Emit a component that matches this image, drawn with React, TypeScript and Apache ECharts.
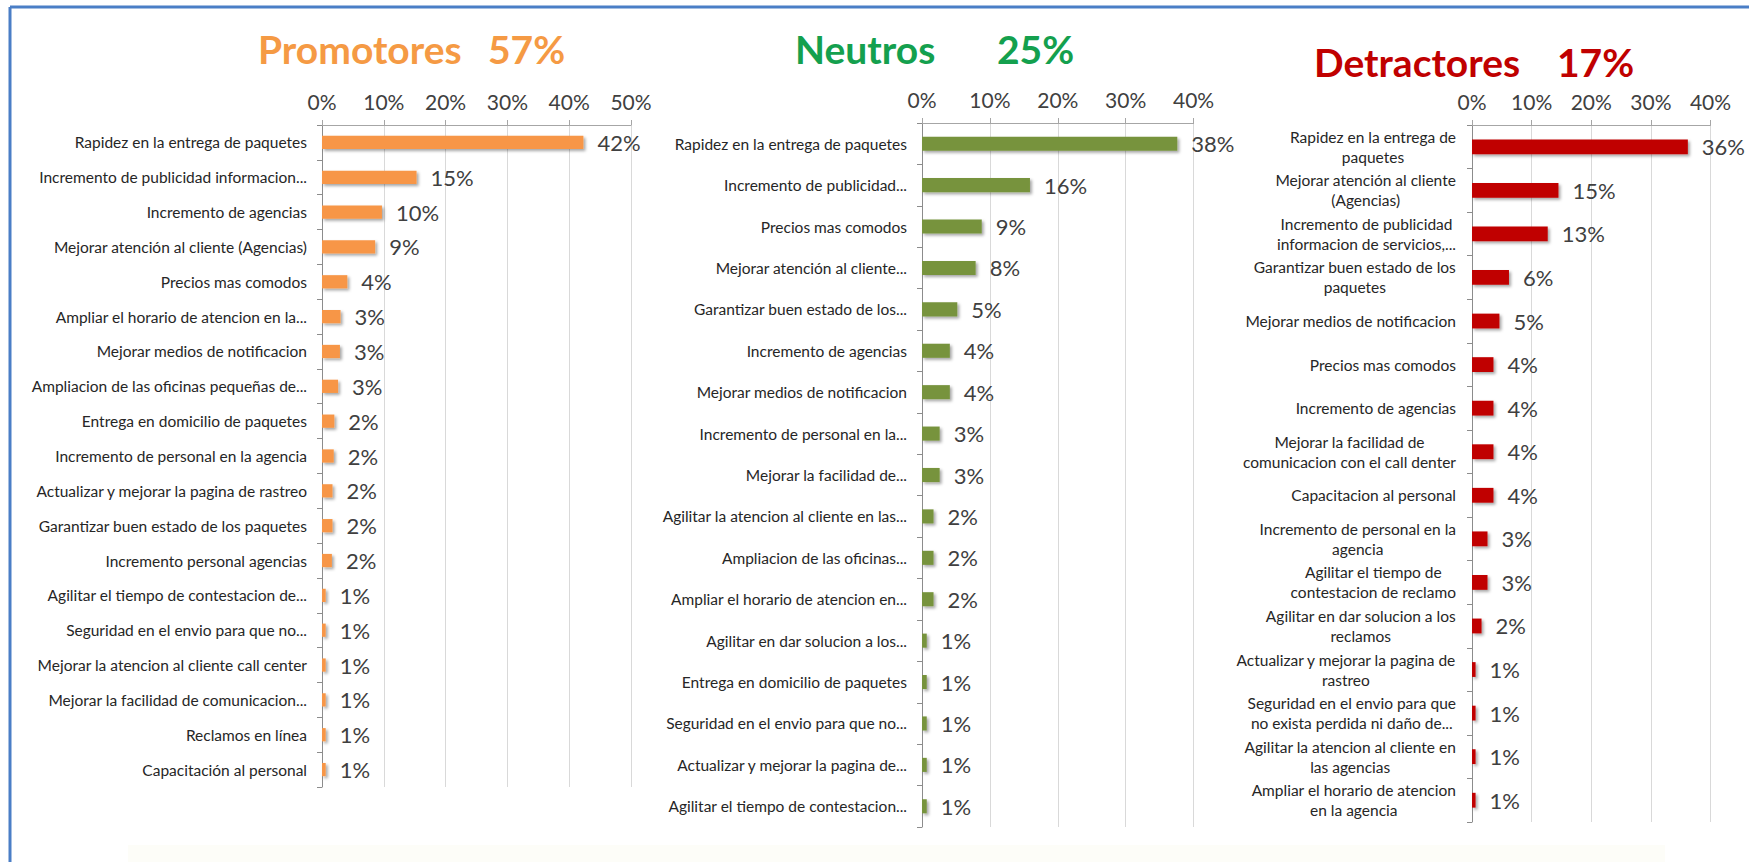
import React, { useEffect, useRef } from 'react';
import * as echarts from 'echarts';

const FONT = 'Lato, "Liberation Sans", sans-serif';

const groupTitles = ['Promotores', 'Neutros', 'Detractores'];
const groupShares = ['57%', '25%', '17%'];
const axisMax = [50, 40, 40];

const promotoresCategories = [
  'Rapidez en la entrega de paquetes',
  'Incremento de publicidad informacion...',
  'Incremento de agencias',
  'Mejorar atención al cliente (Agencias)',
  'Precios mas comodos',
  'Ampliar el horario de atencion en la...',
  'Mejorar medios de notificacion',
  'Ampliacion de las oficinas pequeñas de...',
  'Entrega en domicilio de paquetes',
  'Incremento de personal en la agencia',
  'Actualizar y mejorar la pagina de rastreo',
  'Garantizar buen estado de los paquetes',
  'Incremento personal agencias',
  'Agilitar el tiempo de contestacion de...',
  'Seguridad en el envio para que no...',
  'Mejorar la atencion al cliente call center',
  'Mejorar la facilidad de comunicacion...',
  'Reclamos en línea',
  'Capacitación al personal',
];
const promotoresValues = [42.3, 15.3, 9.7, 8.6, 4.1, 3.0, 2.9, 2.6, 2.0, 1.9, 1.7, 1.7, 1.6, 0.6, 0.6, 0.6, 0.6, 0.6, 0.6];

const neutrosCategories = [
  'Rapidez en la entrega de paquetes',
  'Incremento de publicidad...',
  'Precios mas comodos',
  'Mejorar atención al cliente...',
  'Garantizar buen estado de los...',
  'Incremento de agencias',
  'Mejorar medios de notificacion',
  'Incremento de personal en la...',
  'Mejorar la facilidad de...',
  'Agilitar la atencion al cliente en las...',
  'Ampliacion de las oficinas...',
  'Ampliar el horario de atencion en...',
  'Agilitar en dar solucion a los...',
  'Entrega en domicilio de paquetes',
  'Seguridad en el envio para que no...',
  'Actualizar y mejorar la pagina de...',
  'Agilitar el tiempo de contestacion...',
];
const neutrosValues = [37.6, 15.9, 8.8, 7.9, 5.2, 4.1, 4.1, 2.6, 2.6, 1.7, 1.7, 1.7, 0.7, 0.7, 0.7, 0.7, 0.7];

const detractoresCategories = [
  'Rapidez en la entrega de\npaquetes',
  'Mejorar atención al cliente\n(Agencias)',
  'Incremento de publicidad\ninformacion de servicios,...',
  'Garantizar buen estado de los\npaquetes',
  'Mejorar medios de notificacion',
  'Precios mas comodos',
  'Incremento de agencias',
  'Mejorar la facilidad de\ncomunicacion con el call denter',
  'Capacitacion al personal',
  'Incremento de personal en la\nagencia',
  'Agilitar el tiempo de\ncontestacion de reclamo',
  'Agilitar en dar solucion a los\nreclamos',
  'Actualizar y mejorar la pagina de\nrastreo',
  'Seguridad en el envio para que\nno exista perdida ni daño de...',
  'Agilitar la atencion al cliente en\nlas agencias',
  'Ampliar el horario de atencion\nen la agencia',
];
const detractoresValues = [36.2, 14.5, 12.7, 6.2, 4.6, 3.6, 3.6, 3.6, 3.6, 2.6, 2.6, 1.6, 0.6, 0.6, 0.6, 0.6];

const titleColors = ['#F59A44', '#14A04E', '#C00000'];
const barColors = ['#F79646', '#77933C', '#C00000'];

export default function App() {
  const ref = useRef<HTMLDivElement>(null);
  useEffect(() => {
    if (!ref.current) return;
    const chart = echarts.init(ref.current, null, { renderer: 'svg' });

    const grids = [
      { left: 322, top: 125, width: 309, height: 662 },
      { left: 922, top: 123, width: 271.6, height: 704 },
      { left: 1472, top: 125, width: 238.5, height: 697 },
    ];
    const cats = [promotoresCategories, neutrosCategories, detractoresCategories];
    const vals = [promotoresValues, neutrosValues, detractoresValues];
    const barW = ['38%', '34%', '34%'];

    const titlePos = [
      { name: 258, share: 488, top: 29 },
      { name: 795, share: 997, top: 29 },
      { name: 1314, share: 1557, top: 42 },
    ];
    const title: any[] = [];
    titlePos.forEach((p, i) => {
      const ts = { color: titleColors[i], fontSize: 39, fontWeight: 'bold', fontFamily: FONT };
      title.push({ text: groupTitles[i], left: p.name, top: p.top, padding: 0, textStyle: ts });
      title.push({ text: groupShares[i], left: p.share, top: p.top, padding: 0, textStyle: ts });
    });

    const option: any = {
      animation: false,
      backgroundColor: '#ffffff',
      title,
      grid: grids,
      xAxis: grids.map((_, i) => ({
        type: 'value',
        gridIndex: i,
        position: 'top',
        min: 0,
        max: axisMax[i],
        interval: 10,
        axisLabel: {
          formatter: '{value}%',
          fontSize: 21,
          color: '#404040',
          fontFamily: FONT,
          margin: 13,
        },
        axisLine: { show: true, lineStyle: { color: '#A6A6A6', width: 1 } },
        axisTick: { show: true, length: 5, lineStyle: { color: '#A6A6A6' } },
        splitLine: { show: true, lineStyle: { color: '#D9D9D9', width: 1 } },
      })),
      yAxis: grids.map((_, i) => ({
        type: 'category',
        gridIndex: i,
        inverse: true,
        data: cats[i],
        axisLine: { show: true, lineStyle: { color: '#8C8C8C', width: 1 } },
        axisTick: { show: true, length: 5, lineStyle: { color: '#8C8C8C' } },
        axisLabel: i === 2
          ? {
              margin: 16,
              formatter: (v: string) => v.split('\n').map((l) => `{c|${l}}`).join('\n'),
              rich: {
                c: { align: 'center', fontSize: 15.5, lineHeight: 20, color: '#262626', fontFamily: FONT },
              },
            }
          : { margin: 15, fontSize: 15.5, color: '#262626', fontFamily: FONT },
      })),
      series: grids.map((_, i) => ({
        type: 'bar',
        xAxisIndex: i,
        yAxisIndex: i,
        data: vals[i],
        barWidth: barW[i],
        itemStyle: {
          color: barColors[i],
          shadowBlur: 3,
          shadowColor: 'rgba(0,0,0,0.35)',
          shadowOffsetX: 2,
          shadowOffsetY: 2,
        },
        label: {
          show: true,
          position: 'right',
          distance: 14,
          formatter: (p: any) => Math.round(p.value) + '%',
          fontSize: 22,
          color: '#404040',
          fontFamily: FONT,
        },
      })),
      graphic: [
        { type: 'rect', shape: { x: 128, y: 845, width: 1537, height: 17 }, style: { fill: '#FDFDF8' }, z: -1 },
        { type: 'line', shape: { x1: 10, y1: 7, x2: 1749, y2: 7 }, style: { stroke: '#4A7EC6', lineWidth: 3 } },
        { type: 'line', shape: { x1: 10, y1: 7, x2: 10, y2: 862 }, style: { stroke: '#4A7EC6', lineWidth: 3 } },
      ],
    };
    chart.setOption(option);
    return () => chart.dispose();
  }, []);
  return (
    <div
      ref={ref}
      style={{ position: 'fixed', left: 0, top: 0, width: 1749, height: 862, background: '#fff' }}
    />
  );
}
